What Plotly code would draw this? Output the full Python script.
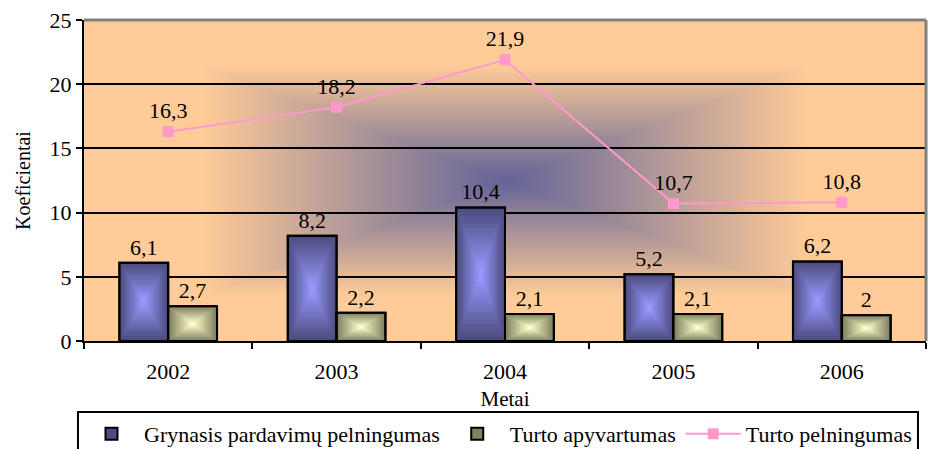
import base64
import struct
import zlib

import numpy as np
import plotly.graph_objects as go

# ---- data -------------------------------------------------------------
years = ["2002", "2003", "2004", "2005", "2006"]
net_sales_margin = [6.1, 8.2, 10.4, 5.2, 6.2]      # Grynasis pardavimų pelningumas
asset_turnover = [2.7, 2.2, 2.1, 2.1, 2]            # Turto apyvartumas
return_on_assets = [16.3, 18.2, 21.9, 10.7, 10.8]   # Turto pelningumas
y_tick_values = [0, 5, 10, 15, 20, 25]

SERIES_NAMES = ["Grynasis pardavimų pelningumas", "Turto apyvartumas", "Turto pelningumas"]

FONT = "Liberation Serif"
BAR_W = 0.29
N_LAYERS = 16


def fmt(v):
    return f"{v:g}".replace(".", ",")


def lerp(a, b, t):
    return tuple(int(round(a[i] + (b[i] - a[i]) * t)) for i in range(3))


def png_data_uri(rgb):
    h, w, _ = rgb.shape
    raw = b"".join(b"\x00" + rgb[r].tobytes() for r in range(h))

    def chunk(tag, data):
        body = tag + data
        return struct.pack(">I", len(data)) + body + struct.pack(">I", zlib.crc32(body) & 0xFFFFFFFF)

    png = (b"\x89PNG\r\n\x1a\n"
           + chunk(b"IHDR", struct.pack(">IIBBBBB", w, h, 8, 2, 0, 0, 0))
           + chunk(b"IDAT", zlib.compress(raw, 9))
           + chunk(b"IEND", b""))
    return "data:image/png;base64," + base64.b64encode(png).decode()


def plot_background(w=421, h=161):
    # rectangular "from centre" gradient: slate blue in the middle, peach at the rim
    centre = np.array([100, 100, 152], dtype=float)
    rim = np.array([255, 204, 153], dtype=float)
    xs = np.abs(np.linspace(-1, 1, w))[None, :]
    ys = np.abs(np.linspace(-1, 1, h))[:, None]
    t = np.maximum(xs, ys)
    f = np.clip(t / 0.72, 0, 1)
    img = centre[None, None, :] + (rim - centre)[None, None, :] * f[..., None]
    return png_data_uri(np.clip(img, 0, 255).astype(np.uint8))


def gradient_bars(values, centre_offset, edge_rgb, centre_rgb, name):
    traces = []
    for k in range(N_LAYERS):
        s = 1 - k / N_LAYERS
        col = "rgb(%d,%d,%d)" % lerp(edge_rgb, centre_rgb, k / (N_LAYERS - 1))
        w = BAR_W * s
        traces.append(go.Bar(
            x=years,
            y=[v * s for v in values],
            base=[v * (1 - s) / 2 for v in values],
            width=w,
            offset=centre_offset - w / 2,
            marker=dict(color=col, line=dict(width=2 if k == 0 else 0, color="black")),
            name=name,
            legendgroup=name,
            showlegend=(k == 0),
            hoverinfo="skip",
        ))
    # crisp outline and value labels on top of the shading
    traces.append(go.Bar(
        x=years,
        y=values,
        width=BAR_W,
        offset=centre_offset - BAR_W / 2,
        marker=dict(color="rgba(0,0,0,0)", line=dict(width=2, color="black")),
        text=[fmt(v) for v in values],
        textposition="outside",
        textfont=dict(family=FONT, size=22, color="black"),
        cliponaxis=False,
        name=name,
        legendgroup=name,
        showlegend=False,
    ))
    return traces


fig = go.Figure()
for tr in gradient_bars(net_sales_margin, -BAR_W / 2, (76, 76, 128), (153, 153, 255), SERIES_NAMES[0]):
    fig.add_trace(tr)
for tr in gradient_bars(asset_turnover, BAR_W / 2, (128, 128, 96), (255, 255, 204), SERIES_NAMES[1]):
    fig.add_trace(tr)

fig.add_trace(go.Scatter(
    x=years,
    y=return_on_assets,
    mode="lines+markers+text",
    name=SERIES_NAMES[2],
    line=dict(color="#FF99CC", width=2),
    marker=dict(symbol="square", size=11, color="#FF99CC"),
    text=[fmt(v) for v in return_on_assets],
    textposition="top center",
    textfont=dict(family=FONT, size=22, color="black"),
    cliponaxis=False,
))

fig.update_layout(
    width=939,
    height=449,
    margin=dict(l=84, r=13, t=20, b=108, autoexpand=False),
    barmode="overlay",
    paper_bgcolor="white",
    plot_bgcolor="#FFCC99",
    font=dict(family=FONT, size=22, color="black"),
    separators=", ",
    images=[dict(
        source=plot_background(),
        xref="paper", yref="paper",
        x=0, y=1, sizex=1, sizey=1,
        sizing="stretch", layer="below",
    )],
    legend=dict(
        orientation="h",
        xref="container", yref="container",
        x=77 / 939, xanchor="left",
        y=1 - 411 / 449, yanchor="top",
        bordercolor="black", borderwidth=2,
        bgcolor="white",
        font=dict(family=FONT, size=22),
        itemwidth=55,
        traceorder="normal",
    ),
    shapes=[
        dict(type="line", xref="paper", yref="paper", x0=0, x1=1, y0=1, y1=1,
             line=dict(color="#808080", width=3), layer="above"),
        dict(type="line", xref="paper", yref="paper", x0=1, x1=1, y0=0, y1=1,
             line=dict(color="#808080", width=3), layer="above"),
    ],
)

fig.update_xaxes(
    type="category",
    range=[-0.5, 4.5],
    tickson="boundaries",
    ticks="outside", ticklen=6, tickwidth=2, tickcolor="black",
    ticklabelstandoff=10,
    showline=True, linecolor="black", linewidth=2,
    showgrid=False,
    tickfont=dict(family=FONT, size=22),
    title=dict(text="Metai", font=dict(family=FONT, size=21), standoff=13),
)
fig.update_yaxes(
    range=[0, 25],
    tickmode="array", tickvals=y_tick_values,
    ticks="outside", ticklen=6, tickwidth=2, tickcolor="black",
    showline=True, linecolor="black", linewidth=2,
    showgrid=True, gridcolor="black", gridwidth=2,
    zeroline=False,
    tickfont=dict(family=FONT, size=22),
    title=dict(text="Koeficientai", font=dict(family=FONT, size=20), standoff=14),
)

fig.write_html("out.html")
